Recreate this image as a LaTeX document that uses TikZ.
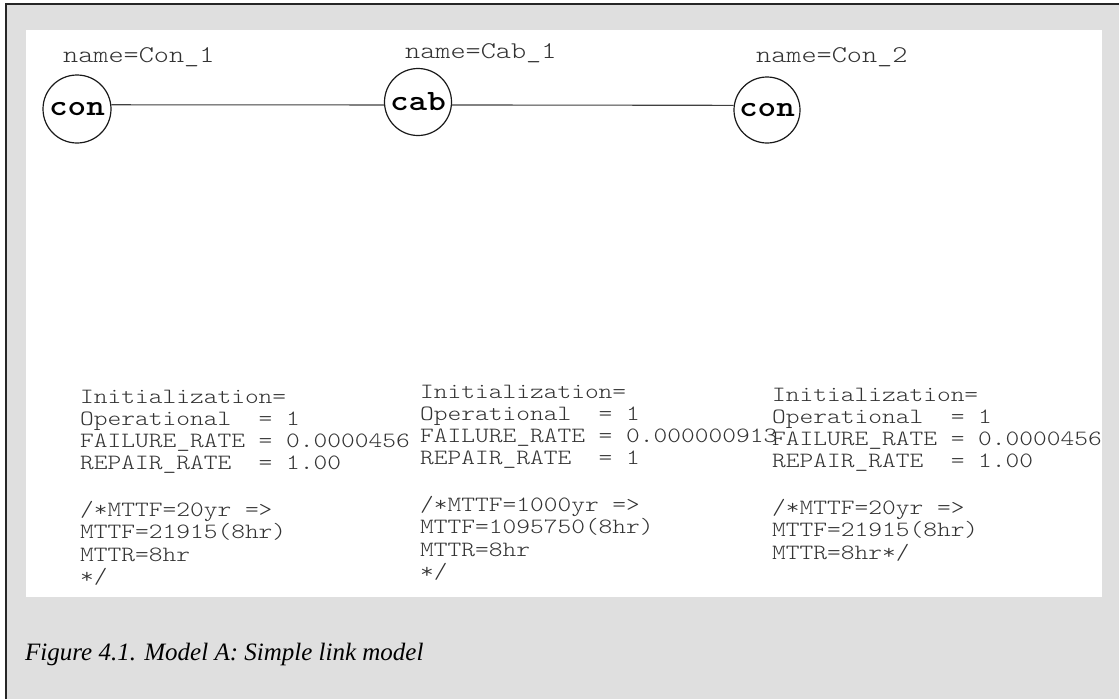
\documentclass[tikz,border=0pt]{standalone}
\usepackage{fontspec}
\setmainfont{Liberation Serif}
% light typewriter face, widened to courier proportions
\setmonofont{lmmonolt10-regular.otf}[FakeStretch=1.2, BoldFont=lmmonolt10-bold.otf]
\definecolor{framegray}{HTML}{DFDFDF}
\definecolor{inkgray}{HTML}{333333}
\tikzset{
  unit/.style={circle, draw=black!90, line width=1.2pt, minimum size=#1, inner sep=0pt,
    font=\fontsize{29.5}{30}\selectfont\ttfamily\bfseries},
  tag/.style={anchor=base west, inner sep=0pt, text=inkgray,
    font=\fontsize{24}{26}\selectfont\ttfamily},
  params/.style={anchor=base west, inner sep=0pt, text=inkgray,
    font=\fontsize{21.8}{22.3}\selectfont\ttfamily},
  link/.style={draw=black!75, line width=1.1pt},
  caption/.style={anchor=base west, inner sep=0pt,
    font=\fontsize{25}{26}\selectfont\itshape}
}
\newcommand{\paramblock}[1]{\begin{tabular}[t]{@{}l@{}}#1\end{tabular}}
\begin{document}
\begin{tikzpicture}[x=1pt, y=-1pt]
  \useasboundingbox (0,0) rectangle (1119,699);
  % outer grey frame with ruled top and left edges
  \fill[white] (0,0) rectangle (1119,699);
  \fill[framegray] (6,4) rectangle (1119,699);
  \draw[black!85, line width=1.4pt] (6,699) -- (6,4) -- (1119,4);
  % white drawing area
  \fill[white] (26,30) rectangle (1102,597);

  % components
  \node[unit=68pt] (con1) at (77,109) {con};
  \node[unit=67pt] (cab1) at (418,102) {cab};
  \node[unit=66pt] (con2) at (767,110) {con};

  % links between components
  \draw[link] (con1.7) -- (cab1.185);
  \draw[link] (cab1.-5) -- (con2.172);

  % component names
  \node[tag] (n1) at (63,62) {name=Con\_1};
  \node[tag] (n2) at (405,58) {name=Cab\_1};
  \node[tag] (n3) at (756,62) {name=Con\_2};

  % parameter blocks
  \node[params] (p1) at (80,403) {\paramblock{%
    Initialization=\\
    Operational~~=~1\\
    FAILURE\_RATE~=~0.0000456\\
    REPAIR\_RATE~~=~1.00\\[2pt]
    \\
    /*MTTF=20yr~=>\\
    MTTF=21915(8hr)\\
    MTTR=8hr\\
    {*}/}};
  \node[params] (p2) at (420,398) {\paramblock{%
    Initialization=\\
    Operational~~=~1\\
    FAILURE\_RATE~=~0.000000913\\
    REPAIR\_RATE~~=~1\\[2pt]
    \\
    /*MTTF=1000yr~=>\\
    MTTF=1095750(8hr)\\
    MTTR=8hr\\
    {*}/}};
  \node[params] (p3) at (772,401) {\paramblock{%
    Initialization=\\
    Operational~~=~1\\
    FAILURE\_RATE~=~0.0000456\\
    REPAIR\_RATE~~=~1.00\\[2pt]
    \\
    /*MTTF=20yr~=>\\
    MTTF=21915(8hr)\\
    MTTR=8hr*/}};

  % caption
  \node[caption] (cap) at (25,660) {Figure 4.1. Model A: Simple link model};
\end{tikzpicture}
\end{document}
